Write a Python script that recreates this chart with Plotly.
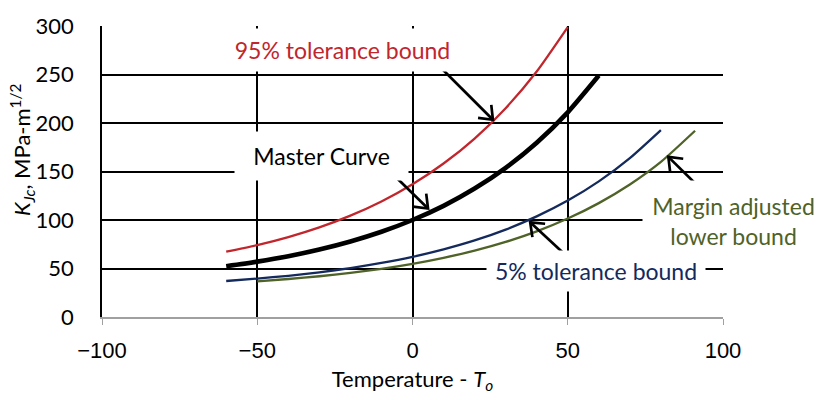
import math
import plotly.graph_objects as go

# Fracture toughness vs. temperature relative to T0 (°C), K_Jc in MPa·m^1/2
temp_master = [-60, -50, -40, -30, -20, -10, 0, 10, 20, 30, 40, 50, 60]
k_master = [52.4, 57.1, 62.7, 69.6, 77.9, 87.9, 100.0, 114.6, 132.4, 153.8, 179.7, 211.0, 248.9]

temp_upper = [-60, -50, -40, -30, -20, -10, 0, 10, 20, 30, 40, 50]
k_upper = [67.3, 74.1, 82.4, 92.4, 104.5, 119.1, 136.8, 158.2, 184.0, 215.3, 253.1, 298.9]

temp_lower = [-60, -50, -40, -30, -20, -10, 0, 10, 20, 30, 40, 50, 60, 70, 80]
k_lower = [37.1, 39.6, 42.5, 46.1, 50.4, 55.7, 62.0, 69.7, 78.9, 90.1, 103.7, 120.0, 139.8, 163.8, 192.7]

temp_margin = [-50, -40, -30, -20, -10, 0, 10, 20, 30, 40, 50, 60, 70, 80, 91]
k_margin = [36.8, 39.2, 42.0, 45.5, 49.7, 54.8, 61.0, 68.4, 77.4, 88.3, 101.5, 117.4, 136.6, 159.9, 192.0]

x_ticks = [-100, -50, 0, 50, 100]
x_tick_text = ["\u2212100", "\u221250", "0", "50", "100"]
y_ticks = [0, 50, 100, 150, 200, 250, 300]

RED = "#C1262D"
NAVY = "#14295C"
GREEN = "#4F6228"

W, H = 823, 400
ML, MR, MT, MB = 102, 100, 21, 81
PW, PH = W - ML - MR, H - MT - MB
X_RANGE, Y_RANGE = (-100, 100), (0, 300)
SX = PW / (X_RANGE[1] - X_RANGE[0])
SY = PH / (Y_RANGE[1] - Y_RANGE[0])

fig = go.Figure()

def curve(x, y, color, width):
    fig.add_trace(go.Scatter(
        x=x, y=y, mode="lines",
        line=dict(color=color, width=width, shape="spline", smoothing=0.6),
        hoverinfo="skip", showlegend=False,
    ))

curve(temp_upper, k_upper, RED, 2.3)
curve(temp_lower, k_lower, NAVY, 2.3)
curve(temp_margin, k_margin, GREEN, 2.3)
curve(temp_master, k_master, "black", 4.6)

# Callout arrows: (tail T, tail K, head T, head K)
arrows = [
    (8.9, 257.7, 25.9, 203.3),
    (-6.3, 147.2, 5.0, 111.8),
    (49.1, 64.4, 37.9, 97.6),
    (94.2, 127.9, 82.4, 165.1),
]
shapes = []
for tx, ty, hx, hy in arrows:
    shapes.append(dict(type="line", xref="x", yref="y", x0=tx, y0=ty, x1=hx, y1=hy,
                       line=dict(color="black", width=2.7), layer="above"))
    dx, dy = (hx - tx) * SX, (hy - ty) * SY
    n = math.hypot(dx, dy)
    ux, uy = -dx / n, -dy / n
    wings = []
    for a in (math.radians(38), math.radians(-38)):
        wx = 15 * (ux * math.cos(a) - uy * math.sin(a))
        wy = 15 * (ux * math.sin(a) + uy * math.cos(a))
        wings.append((wx, wy))
    path = f"M{wings[0][0]:.2f},{wings[0][1]:.2f} L0,0 L{wings[1][0]:.2f},{wings[1][1]:.2f}"
    shapes.append(dict(type="path", xref="x", yref="y", xsizemode="pixel", ysizemode="pixel",
                       xanchor=hx, yanchor=hy, path=path,
                       line=dict(color="black", width=2.7), layer="above"))

LABEL_FONT = "Lato, Calibri, sans-serif"

def px_to_paper(px, py):
    return (px - ML) / PW, (MT + PH - py) / PH

def label(text, cx, cy, w, h, color):
    xp, yp = px_to_paper(cx, cy)
    fig.add_annotation(
        text=text, xref="paper", yref="paper", x=xp, y=yp,
        xanchor="center", yanchor="middle", showarrow=False,
        width=w, height=h, align="center", valign="middle",
        bgcolor="white", borderpad=0,
        font=dict(family=LABEL_FONT, size=23, color=color),
    )

label("95% tolerance bound", 342, 46, 235, 42, RED)
label("Master Curve", 321, 154, 173, 48, "black")
label("5% tolerance bound", 596, 272, 218, 40, NAVY)
label("Margin adjusted<br>lower bound", 733, 221, 181, 80, GREEN)

# Y-axis title
xp, yp = px_to_paper(22, 148)
fig.add_annotation(
    text="<i>K</i><sub><i>Jc</i></sub>, MPa-m<sup>1/2</sup>",
    xref="paper", yref="paper", x=xp, y=yp, xanchor="center", yanchor="middle",
    textangle=-90, showarrow=False,
    font=dict(family=LABEL_FONT, size=22, color="black"),
)

fig.update_layout(
    width=W, height=H,
    margin=dict(l=ML, r=MR, t=MT, b=MB, pad=0),
    paper_bgcolor="white", plot_bgcolor="white",
    shapes=shapes,
    xaxis=dict(
        range=list(X_RANGE), tickvals=x_ticks, ticktext=x_tick_text,
        showgrid=True, gridcolor="black", gridwidth=1.6, zeroline=False,
        showline=True, linecolor="#A0A0A0", linewidth=1.6,
        ticks="outside", ticklen=6, tickcolor="#A0A0A0", tickwidth=1.4,
        ticklabelstandoff=7,
        tickfont=dict(family="Liberation Sans, Arial, sans-serif", size=22, color="black"),
        title=dict(text="Temperature - <i>T</i><sub><i>o</i></sub>",
                   font=dict(family=LABEL_FONT, size=22, color="black"), standoff=9),
    ),
    yaxis=dict(
        range=list(Y_RANGE), tickvals=y_ticks,
        showgrid=True, gridcolor="black", gridwidth=1.6, zeroline=False,
        showline=True, linecolor="black", linewidth=1.6,
        ticks="", ticklabelstandoff=22,
        tickfont=dict(family=LABEL_FONT, size=22, color="black"),
    ),
)

fig.write_html("out.html")
